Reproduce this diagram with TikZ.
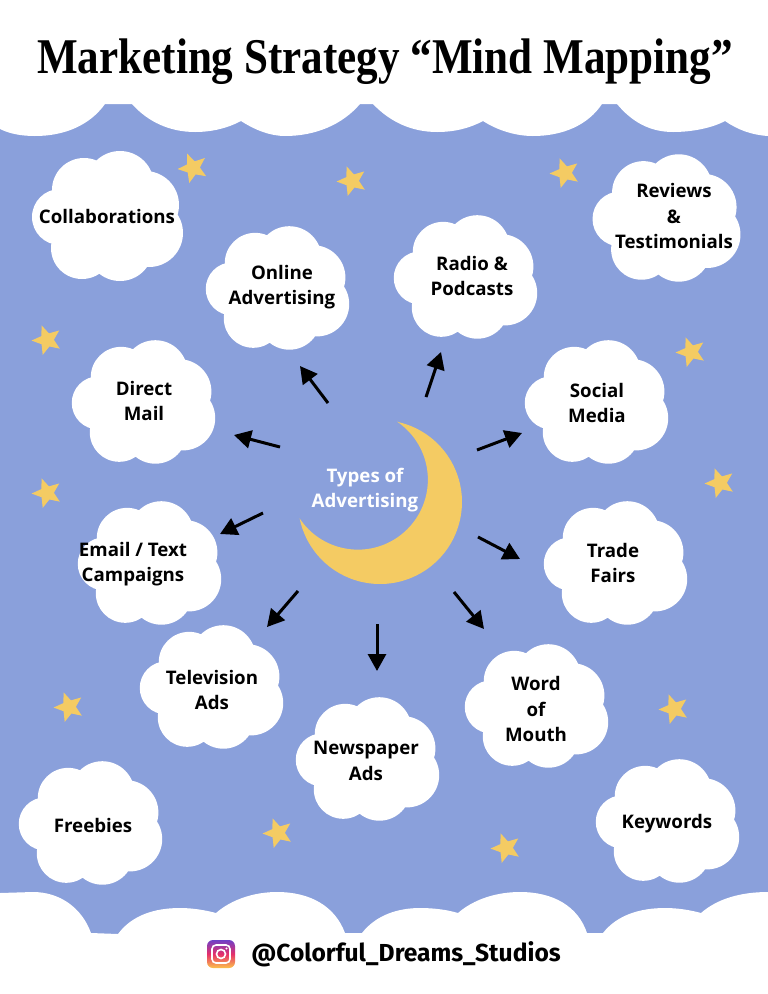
\documentclass[tikz,border=0pt]{standalone}
\usepackage{fontspec}
\setmainfont{Open Sans}
\newfontfamily\titlefont{Liberation Serif}
\newfontfamily\handlefont{Fira Sans}
\usetikzlibrary{arrows.meta,shapes.geometric}
\definecolor{skyblue}{HTML}{8AA0DB}
\definecolor{moonyellow}{HTML}{F4CB63}
\definecolor{igpurple}{HTML}{6E3FC8}
\definecolor{igpink}{HTML}{E5306A}
\definecolor{igyellow}{HTML}{FCC24A}
\tikzset{
	cloudpic/.pic={
		\fill[white] (13,-30) circle[radius=34] (-23,-25) circle[radius=32]
			(38,-10) circle[radius=34] (42,18) circle[radius=34]
			(-47,2) circle[radius=28] (-25,33) circle[radius=31]
			(13,33) circle[radius=33] (0,0) circle[radius=50];
	},
	cloudtext/.style={font=\bfseries\fontsize{18.7}{25.5}\selectfont, align=center, black, inner sep=0pt},
	starnode/.style={star, star points=5, star point ratio=2.25, fill=moonyellow, minimum size=31pt, inner sep=0pt},
	radial/.style={line width=3pt, -{Triangle[length=17pt,width=18pt]}}
}
\begin{document}
\begin{tikzpicture}[x=1pt,y=-1pt]
	\useasboundingbox (0,0) rectangle (768,994);
	\fill[skyblue] (0,0) rectangle (768,994);
	% top band
	\fill[white] (0,0) -- (0,129) .. controls (10,134) and (22,136) .. (35,136)
		.. controls (65,136) and (90,125) .. (105,104) -- (132,104)
		.. controls (148,122) and (170,132) .. (195,132) .. controls (212,132) and (228,128) .. (241,121)
		.. controls (255,130) and (270,136) .. (285,136) .. controls (315,136) and (342,125) .. (360,104) -- (373,104)
		.. controls (390,122) and (412,132) .. (437,132) .. controls (455,132) and (470,128) .. (483,121)
		.. controls (497,130) and (515,136) .. (533,136) .. controls (563,136) and (588,125) .. (602,104) -- (617,104)
		.. controls (632,122) and (650,132) .. (673,132) .. controls (692,132) and (712,128) .. (725,121)
		.. controls (738,130) and (752,135) .. (768,136) -- (768,0) -- cycle;
	% bottom band
	\fill[white] (0,994) -- (0,893) -- (33,892) .. controls (60,892) and (82,908) .. (91,933) -- (118,934)
		.. controls (132,915) and (155,908) .. (180,908) .. controls (192,908) and (205,910) .. (216,913)
		.. controls (232,899) and (255,892) .. (277,892) .. controls (310,892) and (335,906) .. (345,933) -- (362,933)
		.. controls (376,915) and (398,908) .. (420,908) .. controls (435,908) and (448,910) .. (458,913)
		.. controls (474,899) and (497,892) .. (520,892) .. controls (553,892) and (578,906) .. (587,933) -- (603,933)
		.. controls (617,915) and (640,908) .. (665,908) .. controls (678,908) and (690,910) .. (701,913)
		.. controls (717,899) and (740,892) .. (768,892) -- (768,994) -- cycle;
	\node[font=\titlefont\bfseries\fontsize{50}{60}\selectfont, black, inner sep=0pt, xscale=.862] (title) at (385,62) {Marketing Strategy “Mind Mapping”};
	% stars
	\foreach \n/\x/\y/\r in {1/193/168/22,2/352/181/20,3/565/173/20,4/691/352/20,5/720/483/20,6/674/709/20,7/506/848/20,8/278/833/20,9/69/707/20,10/47/493/20,11/47/340/20} {
		\node[starnode, rotate=\r] (star\n) at (\x,\y) {};
	}
	% moon
	\fill[moonyellow] (398,422) arc[start angle=-77.3, end angle=168.4, radius=82] arc[start angle=146.3, end angle=-56, radius=70] -- cycle;
	\node[cloudtext, white] (types) at (365,490) {Types of\\Advertising};
	% clouds
	\foreach \cx/\cy/\s in {107/215/1,277/287/.95,465/276/.95,666/217/.98,143/401/.95,596/401/.95,149/562/.95,615/562/.95,211/686/.95,367/758/.95,536/705/.95,90/822/.95,667/820/.95} {
		\pic[scale=\s] at (\cx,\cy) {cloudpic};
	}
	\node[cloudtext] (collab) at (107,216) {Collaborations};
	\node[cloudtext] (online) at (282,287) {Online\\Advertising};
	\node[cloudtext] (radio) at (472,276) {Radio \&\\Podcasts};
	\node[cloudtext] (reviews) at (674,216) {Reviews\\\&\\Testimonials};
	\node[cloudtext] (direct) at (144,401) {Direct\\Mail};
	\node[cloudtext] (social) at (597,403) {Social\\Media};
	\node[cloudtext] (email) at (133,564) {Email / Text\\Campaigns};
	\node[cloudtext] (trade) at (613,563) {Trade\\Fairs};
	\node[cloudtext] (tv) at (212,690) {Television\\Ads};
	\node[cloudtext] (news) at (366,761) {Newspaper\\Ads};
	\node[cloudtext] (word) at (536,709) {Word\\of\\Mouth};
	\node[cloudtext] (freebies) at (93,825) {Freebies};
	\node[cloudtext] (keywords) at (667,824) {Keywords};
	% arrows
	\foreach \name/\ax/\ay/\bx/\by in {online/328/403/300/366,radio/426/397/441/352,direct/280/447/234/435,social/477/450/522/433,email/263/513/220/534,trade/478/537/520/559,tv/298/591/267/627,news/377/624/377/671,word/454/592/484/629} {
		\coordinate (\name tail) at (\ax,\ay);
		\coordinate (\name tip) at (\bx,\by);
		\draw[radial] (\name tail) -- (\name tip);
	}
	% instagram mark
	\shade[rounded corners=6pt, top color=igpurple, bottom color=igyellow, middle color=igpink] (207,940) rectangle (235,968);
	\draw[white, line width=1.6pt, rounded corners=4pt] (212,945) rectangle (230,963);
	\draw[white, line width=1.6pt] (221,954) circle[radius=4.5];
	\fill[white] (226.5,948.5) circle[radius=1.2];
	\node[font=\handlefont\bfseries\fontsize{24.6}{28}\selectfont, black, inner sep=0pt] (handle) at (406,954) {@Colorful\_Dreams\_Studios};
\end{tikzpicture}
\end{document}
